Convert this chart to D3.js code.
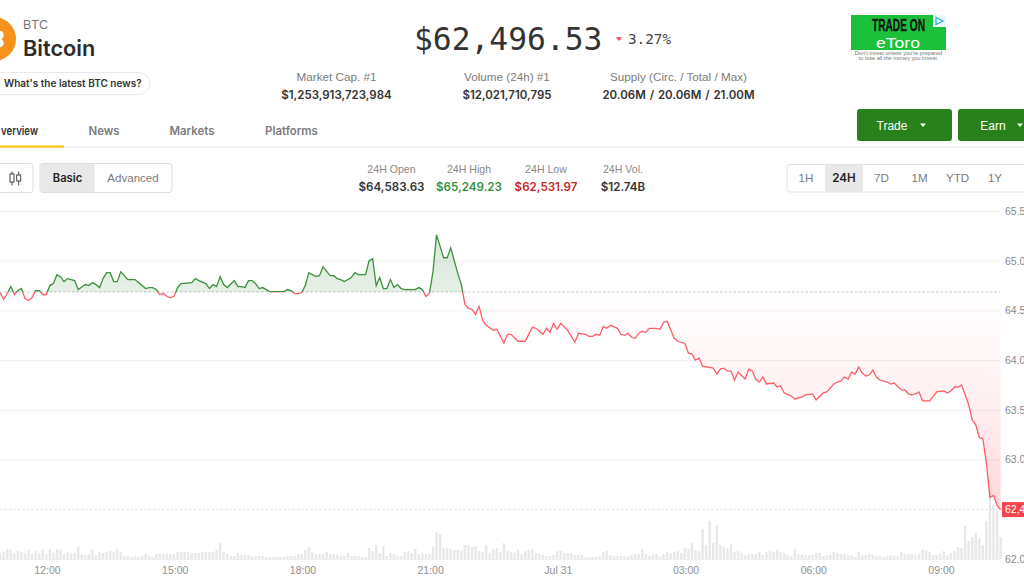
<!DOCTYPE html>
<html>
<head>
<meta charset="utf-8">
<script src="https://cdn.jsdelivr.net/npm/d3@7.9.0/dist/d3.min.js"></script>
<style>
  html, body { margin: 0; padding: 0; background: #fff; overflow: hidden; }
  svg { display: block; font-family: "Liberation Sans", Arial, sans-serif; }
  .mono { font-family: "DejaVu Sans Mono", monospace; }
  .inter { font-family: Inter, sans-serif; }
</style>
</head>
<body>
<svg id="chart" width="1024" height="576"></svg>
<script>
// five minute slots counted from 10:54, only the ones
const priceSlots = [
  0,1,2,3,4,5,6,7,8,9,10,11,12,13,14,15,16,17,18,19,20,21,22,24,25,26,27,28,29,30,31,32,33,34,36,38,39,41,42,43,44,45,46,47,48,49,50,51,54,55,56,58,59,60,61,62,63,64,66,67,68,69,70,71,72,73,74,76,80,81,82,83,84,85,86,87,89,90,91,93,94,95,96,97,99,100,101,103,104,105,106,107,108,109,110,111,112,113,114,117,118,119,120,121,122,123,125,126,127,129,130,131,132,133,134,135,136,137,139,140,142,143,144,146,147,148,150,151,153,154,155,156,157,158,160,162,163,165,166,167,168,169,170,171,172,174,175,176,177,178,179,180,181,182,183,185,186,187,188,190,191,193,194,195,196,197,198,201,202,203,204,205,206,207,208,210,211,212,213,214,215,216,218,219,220,221,223,224,226,227,229,230,232,233,235,236,237,238,239,240,241,242,243,244,245,246,247,248,250,251,252,254,255,256,257,258,259,260,262,264,266,267,268,269,270,271,273,274,275,276,277,278,279,280,281,282
];
const prices = [
  64680,64610,64670,64740,64660,64700,64720,64620,64600,64630,64700,64700,64660,64660,64750,64770,64860,64840,64790,64820,64810,64800,64710,64760,64750,64780,64760,64730,64820,64880,64880,64790,64790,64890,64810,64810,64780,64720,64730,64730,64710,64660,64670,64640,64630,64640,64730,64770,64780,64820,64800,64770,64720,64760,64740,64840,64760,64730,64800,64740,64740,64730,64800,64800,64770,64720,64730,64690,64690,64710,64700,64670,64670,64680,64750,64880,64840,64850,64940,64850,64850,64820,64810,64790,64830,64880,64860,64860,65000,65020,64750,64830,64720,64720,64810,64730,64760,64720,64710,64710,64730,64710,64640,64670,64890,65260,65030,65030,65130,64870,64760,64560,64520,64510,64460,64540,64400,64350,64300,64310,64170,64260,64260,64190,64190,64190,64330,64320,64260,64320,64280,64370,64310,64370,64300,64180,64270,64260,64240,64240,64260,64250,64340,64320,64350,64320,64260,64250,64270,64230,64220,64270,64290,64280,64320,64320,64310,64380,64390,64220,64190,64170,64070,64060,64000,64020,63940,63920,63860,63910,63920,63890,63890,63800,63880,63810,63910,63890,63810,63780,63830,63760,63770,63730,63740,63670,63640,63610,63630,63650,63660,63600,63670,63680,63760,63780,63790,63830,63810,63880,63860,63930,63870,63840,63850,63900,63830,63800,63780,63760,63770,63700,63700,63660,63650,63660,63680,63590,63590,63680,63690,63670,63690,63730,63730,63750,63550,63400,63350,63220,63210,62960,62620,62640,62540,62497
];
// one volume bar per slot, starting at slot 0
const volumes = [
  6,7,10,9,6,8,7,6,9,5,8,6,10,5,10,6,10,9,5,7,6,6,12,5,4,5,9,4,7,6,7,8,7,10,7,3,3,2,3,2,3,5,3,2,5,5,5,5,5,5,
  7,7,7,7,6,6,6,7,7,7,7,9,16,7,5,3,3,6,4,4,4,3,3,3,3,2,2,2,2,2,2,3,3,3,5,5,9,12,7,5,5,5,7,5,5,4,
  3,3,6,3,3,3,2,2,11,8,14,6,13,3,6,5,3,3,7,8,6,10,5,6,5,5,12,27,25,11,11,10,9,9,8,14,14,12,13,8,7,14,6,10,11,7,16,8,7,6,9,5,8,9,
  10,6,5,4,3,3,4,8,8,6,6,6,4,4,4,2,2,2,2,3,7,8,4,3,3,3,3,3,4,5,5,10,5,3,4,5,2,5,7,6,7,8,
  6,11,10,16,9,8,30,14,38,16,33,14,12,11,15,7,8,6,4,5,5,5,7,4,7,8,7,9,7,6,4,3,10,5,5,4,4,4,6,6,3,3,4,7,6,5,5,4,4,2,7,4,4,5,4,3,3,2,3,4,3,3,7,5,5,5,4,5,9,8,7,4,4,5,8,4,6,8,12,11,33,18,22,26,21,14,38,69,54,48,22
];
const priceTicks = [65500, 65000, 64500, 64000, 63500, 63000, 62000];
const priceTickLabels = ["65.5", "65.0", "64.5", "64.0", "63.5", "63.0", "62.0"];
const timeTicks = [
  new Date(2024, 6, 30, 12), new Date(2024, 6, 30, 15), new Date(2024, 6, 30, 18), new Date(2024, 6, 30, 21),
  new Date(2024, 6, 31, 0), new Date(2024, 6, 31, 3), new Date(2024, 6, 31, 6), new Date(2024, 6, 31, 9)
];
const timeTickLabels = ["12:00", "15:00", "18:00", "21:00", "Jul 31", "03:00", "06:00", "09:00"];
const basePrice = 64686;
const lastPrice = 62497;
const startTime = new Date(2024, 6, 30, 10, 54);

const svg = d3.select("#chart");
const x = d3.scaleTime().domain([timeTicks[0], timeTicks[7]]).range([47, 941]);
const y = d3.scaleLinear().domain([62000, 65500]).range([559, 211]);
const volY = d3.scaleLinear().domain([0, 70]).range([559, 489]);
const slotTime = (s) => d3.timeMinute.offset(startTime, s * 5);

const points = priceSlots.map((s, i) => ({ t: slotTime(s), v: prices[i] }));
const rightEdge = 1000;

function label(txt, px, py, size, color, opts = {}) {
  return svg.append("text").attr("x", px).attr("y", py).text(txt)
    .attr("font-size", size).attr("fill", color)
    .attr("text-anchor", opts.anchor || "middle")
    .attr("font-weight", opts.weight || 400)
    .attr("class", opts.cls || null);
}

// chart
const defs = svg.append("defs");
const redGrad = defs.append("linearGradient").attr("id", "redFill")
  .attr("gradientUnits", "userSpaceOnUse").attr("x1", 0).attr("x2", 0).attr("y1", y(basePrice)).attr("y2", y(lastPrice));
redGrad.append("stop").attr("offset", 0).attr("stop-color", "#ff4a55").attr("stop-opacity", 0);
redGrad.append("stop").attr("offset", 0.45).attr("stop-color", "#ff4a55").attr("stop-opacity", 0.07);
redGrad.append("stop").attr("offset", 1).attr("stop-color", "#ff4a55").attr("stop-opacity", 0.22);
const greenGrad = defs.append("linearGradient").attr("id", "greenFill")
  .attr("gradientUnits", "userSpaceOnUse").attr("x1", 0).attr("x2", 0).attr("y1", y(65260)).attr("y2", y(basePrice));
greenGrad.append("stop").attr("offset", 0).attr("stop-color", "#2e7d32").attr("stop-opacity", 0.18);
greenGrad.append("stop").attr("offset", 1).attr("stop-color", "#2e7d32").attr("stop-opacity", 0.12);
defs.append("clipPath").attr("id", "aboveBase").append("rect")
  .attr("x", 0).attr("y", 0).attr("width", 1024).attr("height", y(basePrice));
defs.append("clipPath").attr("id", "belowBase").append("rect")
  .attr("x", 0).attr("y", y(basePrice)).attr("width", 1024).attr("height", 576 - y(basePrice));

const yAxis = d3.axisRight(y).tickValues(priceTicks)
  .tickFormat((d, i) => priceTickLabels[i]).tickSize(rightEdge).tickPadding(5);
const yG = svg.append("g").call(yAxis);
yG.select(".domain").remove();
yG.selectAll("line").attr("stroke", "#eeeeee");
yG.selectAll("text").attr("fill", "#8a8a8a").attr("font-size", 10.5).attr("font-family", "Liberation Sans");

const xAxis = d3.axisBottom(x).tickValues(timeTicks)
  .tickFormat((d, i) => timeTickLabels[i]).tickSize(0).tickPadding(8);
const xG = svg.append("g").attr("transform", "translate(0,559)").call(xAxis);
xG.select(".domain").remove();
xG.selectAll("text").attr("fill", "#8f8f8f").attr("font-size", 10.5).attr("font-family", "Liberation Sans");

svg.append("g").selectAll("rect").data(volumes).enter().append("rect")
  .attr("x", (d, i) => x(slotTime(i)) - 1.2)
  .attr("width", 2.4)
  .attr("y", (d) => volY(d))
  .attr("height", (d) => volY(0) - volY(d))
  .attr("fill", "#e8e8e8");

[[basePrice, "#bdbdbd"], [lastPrice, "#d9d9d9"]].forEach(([v, c]) => {
  svg.append("line").attr("x1", 0).attr("x2", rightEdge).attr("y1", y(v)).attr("y2", y(v))
    .attr("stroke", c).attr("stroke-width", 0.8).attr("stroke-dasharray", "2.5,2");
});

const area = d3.area().x((d) => x(d.t)).y0(y(basePrice)).y1((d) => y(d.v));
const line = d3.line().x((d) => x(d.t)).y((d) => y(d.v));
svg.append("path").datum(points).attr("d", area).attr("fill", "url(#greenFill)").attr("clip-path", "url(#aboveBase)");
svg.append("path").datum(points).attr("d", area).attr("fill", "url(#redFill)").attr("clip-path", "url(#belowBase)");
svg.append("path").datum(points).attr("d", line).attr("fill", "none").attr("stroke", "#3b8f3b")
  .attr("stroke-width", 1.3).attr("clip-path", "url(#aboveBase)");
svg.append("path").datum(points).attr("d", line).attr("fill", "none").attr("stroke", "#ff5c66")
  .attr("stroke-width", 1.3).attr("clip-path", "url(#belowBase)");

svg.append("rect").attr("x", 1002).attr("y", y(lastPrice) - 7.5).attr("width", 22).attr("height", 15).attr("fill", "#f4444f");
label("62,4", 1005, y(lastPrice) + 3.7, 10.5, "#fff", { anchor: "start" });

// coin header, the white part of the logo is a plain shape
svg.append("circle").attr("cx", -6).attr("cy", 39).attr("r", 22).attr("fill", "#f7931a");
svg.append("path").attr("d", "M0,31 L1.5,31 Q4,32 3.5,36 Q3,38.5 1.5,39 Q4,40.5 3.8,44 Q3,47 0,47.5 Z").attr("fill", "#fff");
label("BTC", 23, 29, 12.5, "#777", { anchor: "start" });
label("Bitcoin", 23, 55.5, 21.7, "#2b2b2b", { anchor: "start", weight: 600, cls: "inter" });
svg.append("rect").attr("x", -30).attr("y", 72.5).attr("width", 180).attr("height", 22).attr("rx", 11)
  .attr("fill", "#fff").attr("stroke", "#e9e9e9");
label("What's the latest BTC news?", 4, 87, 10, "#333", { anchor: "start", weight: 600, cls: "inter" });

// price
label("$62,496.53", 414, 49.5, 31.3, "#333", { anchor: "start", cls: "mono" });
svg.append("path").attr("d", "M616,37.3 L622,37.3 L619,41 Z").attr("fill", "#f4444f");
label("3.27%", 628, 44, 14.3, "#444", { anchor: "start", cls: "mono" });

const statLabels = ["Market Cap. #1", "Volume (24h) #1", "Supply (Circ. / Total / Max)"];
const statValues = ["$1,253,913,723,984", "$12,021,710,795", "20.06M / 20.06M / 21.00M"];
const statCenters = [336.5, 507, 678.5];
statLabels.forEach((t, i) => {
  label(t, statCenters[i], 81, 11.7, "#7c7c7c");
  label(statValues[i], statCenters[i], 99, 11.5, "#333", { weight: 600, cls: "inter" }).attr("word-spacing", 1);
});

// ad
svg.append("rect").attr("x", 851).attr("y", 15).attr("width", 95).attr("height", 35).attr("fill", "#1bc13a");
label("TRADE ON", 898.5, 31, 17, "#111", { weight: 700 }).attr("font-family", "Liberation Sans Narrow, Liberation Sans")
  .attr("textLength", 53).attr("lengthAdjust", "spacingAndGlyphs").attr("stroke", "#111").attr("stroke-width", 0.3);
label("eToro", 898, 47.5, 15, "#fff", { weight: 400 }).attr("textLength", 44).attr("lengthAdjust", "spacingAndGlyphs");
svg.append("rect").attr("x", 933).attr("y", 15).attr("width", 13).attr("height", 12).attr("fill", "#e6f7fb");
svg.append("path").attr("d", "M936,17.5 L943,21 L936,24.5 Z").attr("fill", "none").attr("stroke", "#2ea9e0").attr("stroke-width", 1.2);
label("Don't invest unless you're prepared", 898.5, 55.3, 5.6, "#777");
label("to lose all the money you invest.", 898.5, 60, 5.6, "#777");

// buttons
const tradeBtns = [["Trade", 857, 95, 892, 923], ["Earn", 958, 80, 993, 1020]];
tradeBtns.forEach(([t, bx, bw, tx, cx]) => {
  svg.append("rect").attr("x", bx).attr("y", 109).attr("width", bw).attr("height", 32).attr("rx", 3).attr("fill", "#27801a");
  label(t, tx, 129.5, 12, "#fff");
  svg.append("path").attr("d", `M${cx - 3},123.5 L${cx + 3},123.5 L${cx},127 Z`).attr("fill", "#fff");
});

// tabs
const tabNames = ["verview", "News", "Markets", "Platforms"];
const tabCenters = [19.5, 104, 192, 291.5];
tabNames.forEach((t, i) => {
  const tab = label(t, tabCenters[i], 135, 11.4, i === 0 ? "#333" : "#7c7c7c", { weight: 600, cls: "inter" });
  if (i === 0) tab.attr("textLength", 37).attr("lengthAdjust", "spacingAndGlyphs");
});
svg.append("rect").attr("x", 0).attr("y", 146.5).attr("width", 1024).attr("height", 1.5).attr("fill", "#eeeeee");
svg.append("rect").attr("x", 0).attr("y", 145.5).attr("width", 64).attr("height", 2).attr("fill", "#f8c200");

// toolbar
svg.append("rect").attr("x", -10).attr("y", 163.5).attr("width", 43).attr("height", 29).attr("rx", 3)
  .attr("fill", "#fff").attr("stroke", "#dddddd");
[[12, 174, 8], [18.7, 175, 6]].forEach(([cx, top, h]) => {
  svg.append("line").attr("x1", cx).attr("x2", cx).attr("y1", 171.5).attr("y2", 185.5).attr("stroke", "#444");
  svg.append("rect").attr("x", cx - 2).attr("y", top).attr("width", 4).attr("height", h).attr("fill", "#fff").attr("stroke", "#444");
});
svg.append("rect").attr("x", 40).attr("y", 163.5).attr("width", 132).attr("height", 29).attr("rx", 3)
  .attr("fill", "#fff").attr("stroke", "#dddddd");
svg.append("rect").attr("x", 40.5).attr("y", 164).attr("width", 54).attr("height", 28).attr("fill", "#e8e8e8");
label("Basic", 67.5, 181.5, 11.2, "#222", { weight: 600, cls: "inter" });
label("Advanced", 133, 181.5, 11.6, "#7c7c7c");

const dayLabels = ["24H Open", "24H High", "24H Low", "24H Vol."];
const dayValues = ["$64,583.63", "$65,249.23", "$62,531.97", "$12.74B"];
const dayColors = ["#333", "#388e3c", "#c62828", "#333"];
const dayCenters = [391.5, 469, 546, 623];
dayLabels.forEach((t, i) => {
  label(t, dayCenters[i], 173, 10.6, "#888");
  label(dayValues[i], dayCenters[i], 191, 11.6, dayColors[i], { weight: 600, cls: "inter" });
});

const rangeLabels = ["1H", "24H", "7D", "1M", "YTD", "1Y"];
const rangeCenters = [806, 844, 881.5, 919.5, 957.5, 995];
svg.append("rect").attr("x", 787).attr("y", 164.5).attr("width", 260).attr("height", 27.5).attr("rx", 3)
  .attr("fill", "#fff").attr("stroke", "#e2e2e2");
svg.append("rect").attr("x", 825).attr("y", 165).attr("width", 38).attr("height", 27).attr("fill", "#e8e8e8");
rangeLabels.forEach((t, i) => {
  label(t, rangeCenters[i], 182, 11.6, i === 1 ? "#222" : "#7c7c7c", { weight: i === 1 ? 600 : 400, cls: i === 1 ? "inter" : null });
});
</script>
</body>
</html>
